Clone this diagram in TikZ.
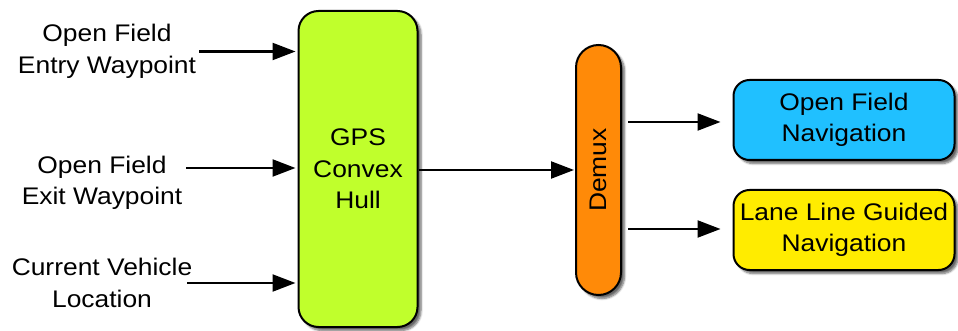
\documentclass[tikz,border=0pt]{standalone}
\usepackage{fontspec}
\setmainfont{Liberation Sans}[FakeStretch=1.1]
\usetikzlibrary{arrows.meta,shadows.blur}

\definecolor{hullgreen}{RGB}{192,255,44}
\definecolor{demuxorange}{RGB}{255,138,8}
\definecolor{navblue}{RGB}{32,192,255}
\definecolor{navyellow}{RGB}{255,236,0}

\tikzset{
  txt/.style={font=\fontsize{24}{31.5}\selectfont, align=center, inner sep=0pt},
  block/.style={txt, draw=black, line width=2pt,
    blur shadow={shadow xshift=3.5pt, shadow yshift=-3.5pt, shadow blur steps=6, shadow opacity=60}},
  flow/.style={line width=2.2pt, -{Triangle[length=23pt,width=17pt]}},
}

\begin{document}
\begin{tikzpicture}[x=1pt,y=-1pt]
\useasboundingbox (0,0) rectangle (958,331);

% processing blocks
\node[block, fill=hullgreen, rounded corners=20pt, minimum width=119pt, minimum height=316pt]
  (gps) at (358,169) {GPS\\Convex\\Hull};
\node[block, fill=demuxorange, rounded corners=22.5pt, minimum width=45pt, minimum height=250pt]
  (demux) at (598.5,170) {\rotatebox{90}{Demux}};
\node[block, fill=navblue, rounded corners=16pt, minimum width=221pt, minimum height=80pt]
  (ofnav) at (844,120) {Open Field\\Navigation};
\node[block, fill=navyellow, rounded corners=16pt, minimum width=221pt, minimum height=80pt]
  (llnav) at (844,230) {Lane Line Guided\\Navigation};

% inputs
\node[txt] (entry) at (107,51.5) {Open Field\\Entry Waypoint};
\node[txt] (exit) at (102,183) {Open Field\\Exit Waypoint};
\node[txt] (loc) at (102,283) {Current Vehicle\\Location};

% connectors
\draw[flow, shorten <=3pt, shorten >=2pt] (entry.east) -- (entry.east -| gps.west);
\draw[flow, shorten <=4pt, shorten >=2pt] (exit.east |- 0,168) -- (gps.west |- 0,168);
\draw[flow, shorten <=-5pt, shorten >=2pt] (loc.east) -- (loc.east -| gps.west);
\draw[flow, shorten >=1pt] (gps.east |- demux.west) -- (demux.west);
\draw[flow, shorten <=6pt, shorten >=12pt] (demux.east |- 0,122) -- (ofnav.west |- 0,122);
\draw[flow, shorten <=6pt, shorten >=12pt] (demux.east |- 0,229) -- (llnav.west |- 0,229);
\end{tikzpicture}
\end{document}
